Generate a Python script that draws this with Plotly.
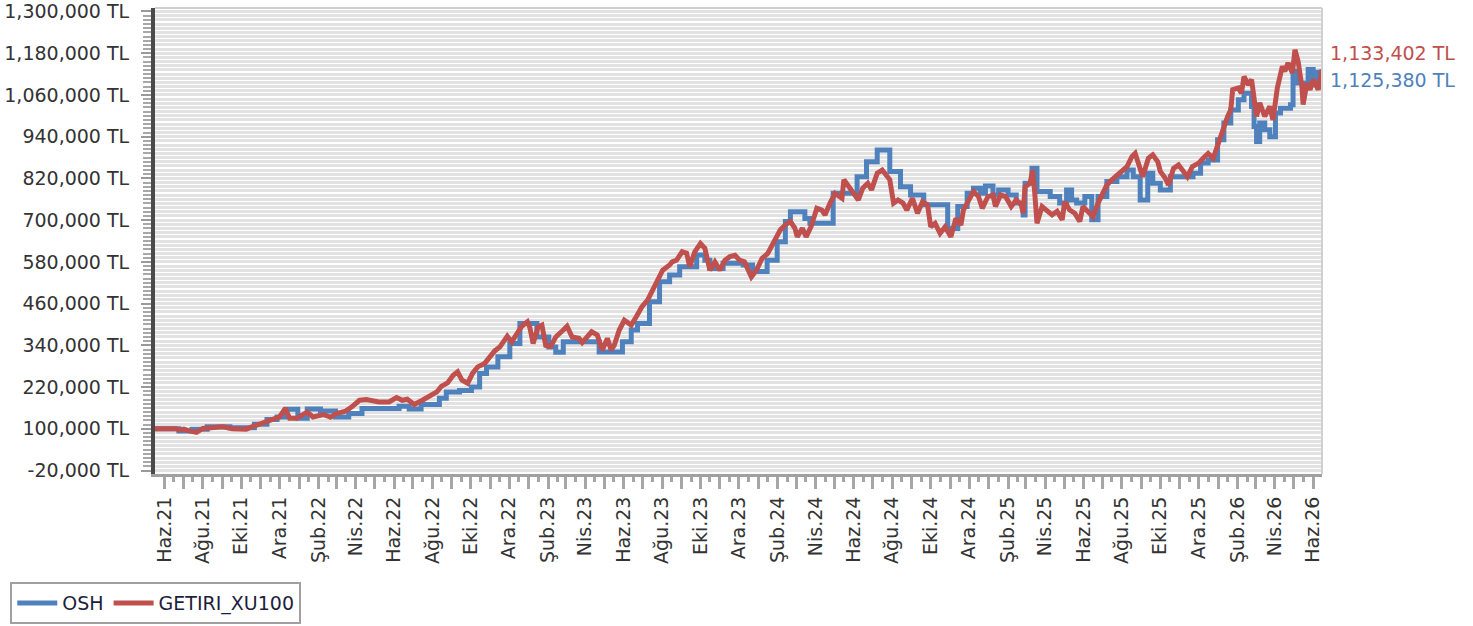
import pandas as pd
import plotly.graph_objects as go

# ---------------- data (values in TL) ----------------
OSH_DATES = [
    "2021-05-17", "2021-06-24", "2021-07-15", "2021-08-08", "2021-09-13", "2021-10-22",
    "2021-11-11", "2021-11-27", "2021-12-12", "2021-12-30", "2022-01-14", "2022-02-04",
    "2022-02-28", "2022-03-21", "2022-04-11", "2022-06-09", "2022-06-25", "2022-07-14",
    "2022-08-12", "2022-08-23", "2022-09-13", "2022-10-02", "2022-10-15", "2022-10-26",
    "2022-11-13", "2022-12-02", "2022-12-18", "2023-01-14", "2023-02-02", "2023-02-13",
    "2023-02-25", "2023-04-23", "2023-05-30", "2023-06-13", "2023-06-23", "2023-07-12",
    "2023-07-28", "2023-08-13", "2023-08-29", "2023-09-25", "2023-10-08", "2023-10-16",
    "2023-11-06", "2023-12-08", "2023-12-23", "2024-01-15", "2024-01-31", "2024-02-13",
    "2024-02-21", "2024-03-15", "2024-03-23", "2024-04-29", "2024-06-06", "2024-06-21",
    "2024-07-08", "2024-07-28", "2024-08-14", "2024-08-30", "2024-09-20", "2024-10-28",
    "2024-11-13", "2024-11-28", "2024-12-08", "2024-12-19", "2024-12-27", "2025-01-08",
    "2025-01-17", "2025-02-01", "2025-02-14", "2025-02-25", "2025-02-28", "2025-03-11",
    "2025-03-19", "2025-04-09", "2025-04-24", "2025-05-05", "2025-05-13", "2025-05-21",
    "2025-06-03", "2025-06-14", "2025-06-24", "2025-07-08", "2025-07-24", "2025-08-09",
    "2025-08-19", "2025-08-30", "2025-09-11", "2025-09-19", "2025-10-01", "2025-10-17",
    "2025-11-22", "2025-12-04", "2025-12-16", "2025-12-31", "2026-01-10", "2026-01-21",
    "2026-02-02", "2026-02-11", "2026-02-23", "2026-02-27", "2026-03-03", "2026-03-08",
    "2026-03-16", "2026-03-24", "2026-04-02", "2026-04-10", "2026-04-26", "2026-04-30",
    "2026-05-08", "2026-05-16", "2026-05-24", "2026-06-01", "2026-06-09", "2026-06-15",
]
OSH_VALUES = [
    100000, 94000, 99000, 106000, 103000, 113000,
    127000, 134000, 156000, 130000, 157000, 151000,
    134000, 144000, 158000, 165000, 157000, 170000,
    188000, 206000, 210000, 220000, 259000, 278000,
    307000, 345000, 403000, 364000, 335000, 320000,
    350000, 321000, 350000, 384000, 403000, 465000,
    523000, 542000, 566000, 600000, 585000, 561000,
    576000, 571000, 552000, 585000, 638000, 696000,
    724000, 705000, 691000, 777000, 825000, 868000,
    902000, 840000, 796000, 772000, 744000, 676000,
    739000, 777000, 792000, 777000, 798000, 772000,
    787000, 772000, 749000, 715000, 806000, 849000,
    782000, 768000, 749000, 787000, 758000, 749000,
    768000, 701000, 768000, 811000, 825000, 844000,
    825000, 758000, 835000, 806000, 787000, 825000,
    835000, 864000, 873000, 931000, 979000, 1017000,
    1046000, 1065000, 1027000, 969000, 926000, 979000,
    960000, 940000, 1008000, 1022000, 1032000, 1128000,
    1094000, 1085000, 1133000, 1089000, 1125380, 1125380,
]

XU100_DATES = [
    "2021-05-17", "2021-06-20", "2021-06-24", "2021-07-02", "2021-07-10", "2021-07-22",
    "2021-08-01", "2021-08-16", "2021-09-02", "2021-09-17", "2021-10-09", "2021-10-19",
    "2021-11-04", "2021-11-20", "2021-12-01", "2021-12-10", "2021-12-17", "2021-12-28",
    "2022-01-14", "2022-01-23", "2022-02-09", "2022-02-20", "2022-03-01", "2022-03-16",
    "2022-03-26", "2022-04-07", "2022-04-18", "2022-05-08", "2022-05-24", "2022-06-05",
    "2022-06-14", "2022-06-22", "2022-07-03", "2022-07-16", "2022-07-27", "2022-08-08",
    "2022-08-15", "2022-08-25", "2022-09-03", "2022-09-10", "2022-09-17", "2022-09-26",
    "2022-10-04", "2022-10-12", "2022-10-23", "2022-11-01", "2022-11-08", "2022-11-16",
    "2022-11-24", "2022-11-28", "2022-12-05", "2022-12-13", "2022-12-21", "2022-12-30",
    "2023-01-03", "2023-01-08", "2023-01-16", "2023-01-22", "2023-01-28", "2023-02-05",
    "2023-02-13", "2023-02-25", "2023-03-03", "2023-03-11", "2023-03-22", "2023-03-27",
    "2023-04-11", "2023-04-20", "2023-04-28", "2023-05-06", "2023-05-12", "2023-05-17",
    "2023-05-25", "2023-06-02", "2023-06-13", "2023-06-21", "2023-06-30", "2023-07-09",
    "2023-07-16", "2023-07-24", "2023-08-02", "2023-08-13", "2023-08-17", "2023-08-24",
    "2023-09-02", "2023-09-09", "2023-09-14", "2023-09-22", "2023-09-28", "2023-10-01",
    "2023-10-08", "2023-10-16", "2023-10-24", "2023-11-01", "2023-11-09", "2023-11-17",
    "2023-11-25", "2023-12-02", "2023-12-10", "2023-12-15", "2023-12-21", "2023-12-29",
    "2024-01-07", "2024-01-16", "2024-01-27", "2024-02-05", "2024-02-13", "2024-02-21",
    "2024-02-28", "2024-03-03", "2024-03-11", "2024-03-17", "2024-03-25", "2024-04-03",
    "2024-04-11", "2024-04-16", "2024-04-24", "2024-05-02", "2024-05-13", "2024-05-16",
    "2024-05-22", "2024-05-30", "2024-06-08", "2024-06-15", "2024-06-23", "2024-06-29",
    "2024-07-08", "2024-07-16", "2024-07-23", "2024-07-28", "2024-08-03", "2024-08-10",
    "2024-08-18", "2024-08-24", "2024-09-02", "2024-09-10", "2024-09-18", "2024-09-26",
    "2024-10-01", "2024-10-08", "2024-10-16", "2024-10-24", "2024-11-02", "2024-11-10",
    "2024-11-18", "2024-11-22", "2024-11-28", "2024-12-08", "2024-12-16", "2024-12-22",
    "2024-12-31", "2025-01-08", "2025-01-12", "2025-01-20", "2025-01-28", "2025-02-06",
    "2025-02-14", "2025-02-22", "2025-02-25", "2025-02-28", "2025-03-08", "2025-03-12",
    "2025-03-15", "2025-03-19", "2025-03-27", "2025-04-04", "2025-04-12", "2025-04-20",
    "2025-04-28", "2025-05-02", "2025-05-10", "2025-05-18", "2025-05-26", "2025-05-31",
    "2025-06-08", "2025-06-16", "2025-06-24", "2025-07-01", "2025-07-08", "2025-07-16",
    "2025-07-24", "2025-08-02", "2025-08-09", "2025-08-17", "2025-08-22", "2025-08-27",
    "2025-09-03", "2025-09-08", "2025-09-12", "2025-09-19", "2025-09-27", "2025-10-01",
    "2025-10-09", "2025-10-14", "2025-10-22", "2025-10-30", "2025-11-05", "2025-11-13",
    "2025-11-21", "2025-12-01", "2025-12-08", "2025-12-16", "2025-12-24", "2025-12-31",
    "2026-01-05", "2026-01-10", "2026-01-16", "2026-01-21", "2026-01-24", "2026-02-02",
    "2026-02-07", "2026-02-11", "2026-02-18", "2026-02-23", "2026-02-27", "2026-03-03",
    "2026-03-08", "2026-03-16", "2026-03-24", "2026-03-29", "2026-04-05", "2026-04-13",
    "2026-04-17", "2026-04-22", "2026-04-29", "2026-05-03", "2026-05-08", "2026-05-14",
    "2026-05-16", "2026-05-22", "2026-05-27", "2026-06-01", "2026-06-09", "2026-06-15",
]
XU100_VALUES = [
    100000, 100000, 96000, 99000, 94000, 90000,
    101000, 103000, 106000, 100000, 99000, 106000,
    117000, 127000, 134000, 159000, 130000, 130000,
    148000, 134000, 141000, 133000, 144000, 151000,
    163000, 182000, 184000, 177000, 177000, 190000,
    182000, 185000, 170000, 182000, 192000, 206000,
    222000, 232000, 254000, 264000, 240000, 231000,
    260000, 278000, 288000, 307000, 324000, 335000,
    360000, 366000, 350000, 374000, 395000, 408000,
    390000, 345000, 393000, 398000, 340000, 337000,
    364000, 384000, 395000, 364000, 360000, 348000,
    379000, 370000, 326000, 360000, 327000, 340000,
    384000, 412000, 398000, 422000, 451000, 470000,
    494000, 528000, 556000, 571000, 580000, 585000,
    609000, 605000, 566000, 609000, 628000, 633000,
    619000, 556000, 580000, 556000, 585000, 595000,
    599000, 585000, 580000, 556000, 537000, 556000,
    590000, 604000, 643000, 672000, 686000, 696000,
    677000, 652000, 677000, 652000, 682000, 734000,
    729000, 715000, 749000, 777000, 763000, 816000,
    801000, 782000, 758000, 792000, 806000, 787000,
    835000, 844000, 825000, 816000, 749000, 758000,
    749000, 729000, 763000, 720000, 753000, 744000,
    681000, 691000, 662000, 681000, 652000, 705000,
    686000, 729000, 749000, 782000, 768000, 734000,
    768000, 772000, 739000, 772000, 768000, 739000,
    758000, 744000, 720000, 796000, 806000, 844000,
    787000, 691000, 739000, 725000, 715000, 725000,
    701000, 753000, 729000, 720000, 696000, 739000,
    725000, 710000, 749000, 777000, 801000, 816000,
    830000, 844000, 854000, 883000, 892000, 864000,
    825000, 854000, 878000, 888000, 868000, 840000,
    820000, 801000, 849000, 859000, 844000, 825000,
    854000, 864000, 878000, 892000, 878000, 916000,
    940000, 969000, 998000, 1017000, 1075000, 1080000,
    1065000, 1113000, 1089000, 1104000, 1046000, 998000,
    1037000, 998000, 1027000, 988000, 1080000, 1142000,
    1128000, 1152000, 1123000, 1190000, 1157000, 1084000,
    1032000, 1094000, 1075000, 1104000, 1075000, 1133402,
]

MONTH_LABELS = [
    "Haz.21", "Ağu.21", "Eki.21", "Ara.21", "Şub.22", "Nis.22", "Haz.22", "Ağu.22",
    "Eki.22", "Ara.22", "Şub.23", "Nis.23", "Haz.23", "Ağu.23", "Eki.23", "Ara.23",
    "Şub.24", "Nis.24", "Haz.24", "Ağu.24", "Eki.24", "Ara.24", "Şub.25", "Nis.25",
    "Haz.25", "Ağu.25", "Eki.25", "Ara.25", "Şub.26", "Nis.26", "Haz.26",
]
Y_TICKS = [-20000, 100000, 220000, 340000, 460000, 580000, 700000,
           820000, 940000, 1060000, 1180000, 1300000]

SERIES_NAMES = ["OSH", "GETIRI_XU100"]
COLORS = ["#4f81bd", "#c0504d"]
FONT = "DejaVu Sans"
FS = 19

# ---------------- figure ----------------
fig = go.Figure()
fig.add_trace(go.Scatter(
    x=pd.to_datetime(OSH_DATES), y=OSH_VALUES, name=SERIES_NAMES[0], mode="lines",
    line=dict(color=COLORS[0], width=5, shape="hv"),
))
fig.add_trace(go.Scatter(
    x=pd.to_datetime(XU100_DATES), y=XU100_VALUES, name=SERIES_NAMES[1], mode="lines",
    line=dict(color=COLORS[1], width=5),
))

month_ticks = pd.date_range("2021-06-01", "2026-06-01", freq="MS")
tick_text = []
li = 0
for i, _ in enumerate(month_ticks):
    if i % 2 == 0:
        tick_text.append(MONTH_LABELS[li])
        li += 1
    else:
        tick_text.append("")

fig.update_xaxes(
    range=["2021-05-17", "2026-06-15"], automargin=False,
    tickmode="array", tickvals=month_ticks, ticktext=tick_text,
    tickangle=-90, ticks="outside", ticklen=12, tickwidth=3, tickcolor="#a6a6a6",
    minor=dict(ticks="outside", ticklen=5, tickwidth=3, tickcolor="#a6a6a6",
               dtick="M1", tick0="2021-05-16", showgrid=False),
    showgrid=False, showline=True, linecolor="#a0a0a0", linewidth=3,
    tickfont=dict(family=FONT, size=FS, color="#333333"),
    zeroline=False,
)
fig.update_yaxes(
    range=[-30000, 1310000], automargin=False,
    tickmode="array", tickvals=Y_TICKS, ticktext=[f"{v:,} TL" for v in Y_TICKS],
    ticks="outside", ticklen=10, tickwidth=2, tickcolor="#9a9a9a",
    minor=dict(ticks="outside", ticklen=8, tickwidth=2, tickcolor="#a8a8a8",
               dtick=12000, tick0=-20000, showgrid=True,
               gridcolor="#e2e2e2", gridwidth=2.6),
    showgrid=True, gridcolor="#e2e2e2", gridwidth=2.6,
    showline=True, linecolor="#4a4a4a", linewidth=4,
    ticklabelstandoff=8,
    tickfont=dict(family=FONT, size=FS, color="#333333"),
    zeroline=False,
)

# plot border (top / right)
fig.add_shape(type="line", xref="paper", yref="paper", x0=0, x1=1, y0=1, y1=1,
              line=dict(color="#d0d0d0", width=2))
fig.add_shape(type="line", xref="paper", yref="paper", x0=1, x1=1, y0=0, y1=1,
              line=dict(color="#d0d0d0", width=2))

# last-value labels
fig.add_annotation(x=1, xref="paper", y=XU100_VALUES[-1], yref="y",
                   text=f"{XU100_VALUES[-1]:,} TL", showarrow=False,
                   xanchor="left", xshift=6, yshift=16,
                   font=dict(family=FONT, size=FS, color=COLORS[1]))
fig.add_annotation(x=1, xref="paper", y=OSH_VALUES[-1], yref="y",
                   text=f"{OSH_VALUES[-1]:,} TL", showarrow=False,
                   xanchor="left", xshift=6, yshift=-8,
                   font=dict(family=FONT, size=FS, color=COLORS[0]))

fig.update_layout(
    width=1473, height=626,
    margin=dict(l=155, r=151, t=8, b=152, autoexpand=False),
    plot_bgcolor="white", paper_bgcolor="white",
    showlegend=True,
    legend=dict(orientation="h", x=-0.124, y=-0.232, xanchor="left", yanchor="top",
                bordercolor="#a0a0a0", borderwidth=2, bgcolor="white",
                font=dict(family=FONT, size=FS, color="#1e1e3c"),
                itemwidth=40, tracegroupgap=0),
)

fig.write_html("out.html", config={"displayModeBar": False},
               post_script="document.body.style.margin='0';document.body.style.overflow='hidden';")
